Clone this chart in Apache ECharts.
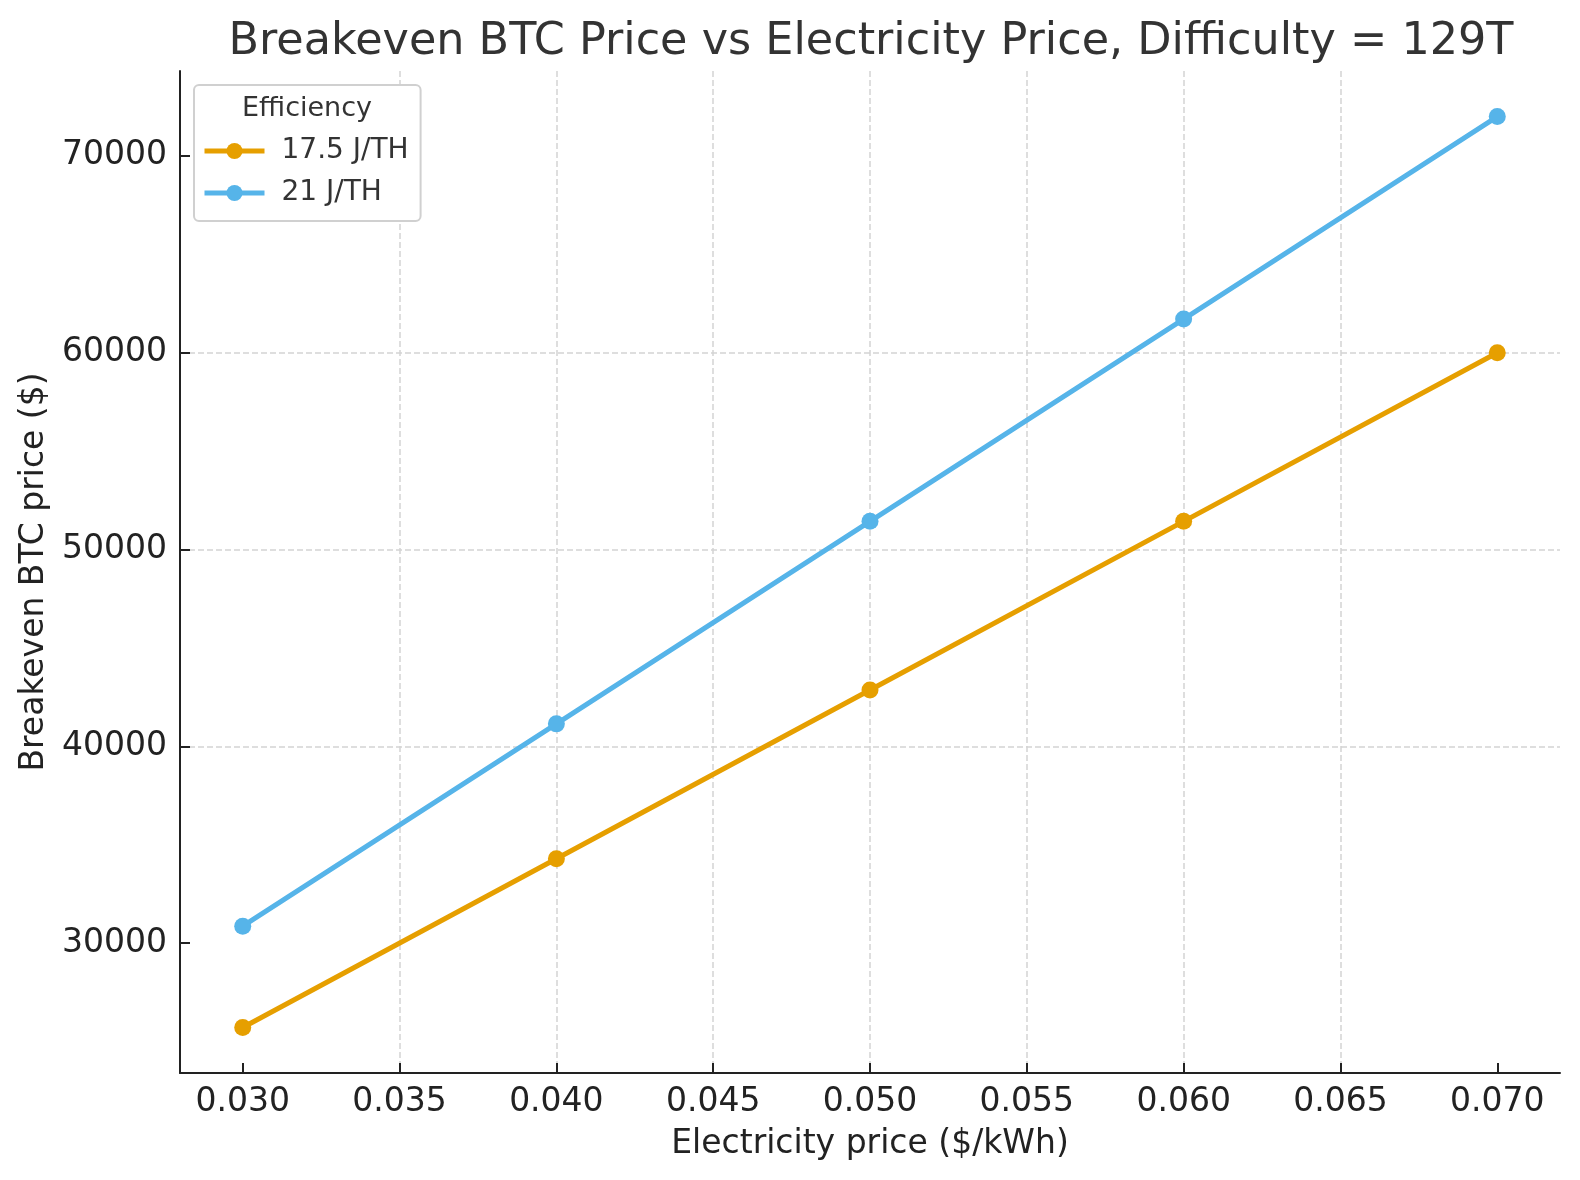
<!DOCTYPE html>
<html>
<head>
<meta charset="utf-8">
<script src="https://cdn.jsdelivr.net/npm/echarts@6/dist/echarts.min.js"></script>
<style>
  html, body { margin: 0; padding: 0; background: #fff; }
  #chart { width: 1580px; height: 1180px; }
</style>
</head>
<body>
<div id="chart"></div>
<script>
// electricity price ($/kWh)
const prices = [0.03, 0.04, 0.05, 0.06, 0.07];
// breakeven BTC price ($) per efficiency
const eff175 = [25710, 34290, 42860, 51430, 60000];
const eff21 = [30860, 41140, 51430, 61710, 72000];
const xTicks = [0.030, 0.035, 0.040, 0.045, 0.050, 0.055, 0.060, 0.065, 0.070];
const yTicks = [30000, 40000, 50000, 60000, 70000];

const FONT = "DejaVu Sans";
const gridLine = { show: true, showMinLine: false, showMaxLine: false,
  lineStyle: { color: "#d4d4d4", width: 1.5, type: [6, 3] } };

const chart = echarts.init(document.getElementById("chart"));
const option = {
  animation: false,
  backgroundColor: "#fff",
  textStyle: { fontFamily: FONT },
  grid: { left: 180, right: 20, top: 71, bottom: 107, containLabel: false },
  graphic: [
    {
      type: "text", x: 871, y: 42,
      style: { text: "Breakeven BTC Price vs Electricity Price, Difficulty = 129T",
        font: "44.5px 'DejaVu Sans'", fill: "#333", align: "center", verticalAlign: "middle" }
    },
    {
      type: "text", x: 307, y: 109, z: 100,
      style: { text: "Efficiency", font: "27px 'DejaVu Sans'", fill: "#333",
        align: "center", verticalAlign: "middle" }
    }
  ],
  legend: {
    orient: "vertical",
    left: 194, top: 85,
    padding: [52, 12, 14, 8],
    itemWidth: 60, itemHeight: 20, itemGap: 14,
    backgroundColor: "#fff",
    borderColor: "#d0d0d0", borderWidth: 2, borderRadius: 5,
    lineStyle: { width: 5 },
    textStyle: { fontFamily: FONT, fontSize: 28, color: "#333", padding: [0, 0, 0, 12] },
    data: ["17.5 J/TH", "21 J/TH"]
  },
  xAxis: {
    type: "value", min: 0.028, max: 0.072, splitNumber: 10,
    name: "Electricity price ($/kWh)", nameLocation: "middle", nameGap: 55,
    nameTextStyle: { fontSize: 33, color: "#222", fontFamily: FONT },
    axisLine: { show: true, onZero: false, lineStyle: { color: "#222", width: 2 } },
    axisTick: { show: true, inside: true, length: 10, lineStyle: { color: "#222", width: 2 }, customValues: xTicks },
    axisLabel: { fontSize: 33, color: "#222", margin: 13, customValues: xTicks,
      formatter: v => v.toFixed(3) },
    splitLine: gridLine
  },
  yAxis: {
    type: "value", min: 23400, max: 74314,
    name: "Breakeven BTC price ($)", nameLocation: "middle", nameGap: 128,
    nameTextStyle: { fontSize: 33, color: "#222", fontFamily: FONT },
    axisLine: { show: true, onZero: false, lineStyle: { color: "#222", width: 2 } },
    axisTick: { show: true, inside: true, length: 10, lineStyle: { color: "#222", width: 2 }, customValues: yTicks },
    axisLabel: { fontSize: 33, color: "#222", margin: 13, customValues: yTicks,
      formatter: v => String(v) },
    splitLine: gridLine
  },
  series: [
    {
      name: "17.5 J/TH", type: "line",
      data: prices.map((p, i) => [p, eff175[i]]),
      symbol: "circle", symbolSize: 17,
      itemStyle: { color: "#E69F00" },
      lineStyle: { color: "#E69F00", width: 5 }
    },
    {
      name: "21 J/TH", type: "line",
      data: prices.map((p, i) => [p, eff21[i]]),
      symbol: "circle", symbolSize: 17,
      itemStyle: { color: "#56B4E9" },
      lineStyle: { color: "#56B4E9", width: 5 }
    }
  ]
};
chart.setOption(option);
</script>
</body>
</html>
